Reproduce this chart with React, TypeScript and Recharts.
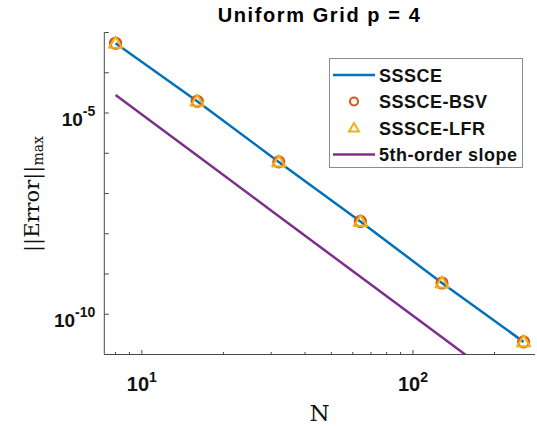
import React from "react";
import { ComposedChart, Line, XAxis, YAxis, Legend } from "recharts";

const gridN = [8, 16, 32, 64, 128, 256];
const errSSSCE = [5.4e-4, 1.96e-5, 6.1e-7, 2.02e-8, 5.98e-10, 2.06e-11];
const errBSV = [5.4e-4, 1.96e-5, 6.1e-7, 2.02e-8, 5.98e-10, 2.06e-11];
const errLFR = [5.4e-4, 1.96e-5, 6.1e-7, 2.02e-8, 5.98e-10, 2.06e-11];
const slopeRef = [2.8e-5, 8.75e-7, 2.73e-8, 8.54e-10, 2.67e-11, 8.34e-13];

const xTicks = [8, 9, 10, 20, 30, 40, 50, 60, 70, 80, 90, 100, 200];
const xLabelled = [10, 100];
const yTicks = [1e-11, 1e-10, 1e-9, 1e-8, 1e-7, 1e-6, 1e-5, 1e-4, 1e-3];
const yLabelled = [1e-10, 1e-5];

const X_DOMAIN: [number, number] = [7.27, 282];
const Y_DOMAIN: [number, number] = [1e-11, 1e-3];

const BLUE = "#0072BD";
const ORANGE = "#D95319";
const YELLOW = "#EDB120";
const PURPLE = "#7E2F8E";
const AXIS = "#4a4a4a";
const SANS = "'Liberation Sans', Arial, Helvetica, sans-serif";
const SERIF = "'DejaVu Serif', serif";

const data = gridN.map((n, i) => ({
  n,
  sssce: errSSSCE[i],
  bsv: errBSV[i],
  lfr: errLFR[i],
  slope: slopeRef[i],
}));

const expOf = (v: number) => Math.round(Math.log10(v));
const isMajorX = (v: number) => xLabelled.includes(v);

const BottomTick = (props: any) => {
  const { x, y, payload } = props;
  const v = payload.value;
  const major = isMajorX(v);
  return (
    <g>
      <line x1={x} x2={x} y1={y} y2={y - (major ? 4.5 : 2.5)} stroke={AXIS} />
      {major && (
        <text x={x} y={y + 36.5} textAnchor="middle" fontFamily={SANS} fontWeight="bold" fontSize={20} fill="#111">
          <tspan>10</tspan>
          <tspan dy={-9} fontSize={14}>{expOf(v)}</tspan>
        </text>
      )}
    </g>
  );
};

const TopTick = (props: any) => {
  const { x, y, payload } = props;
  const major = isMajorX(payload.value);
  return <line x1={x} x2={x} y1={y} y2={y + (major ? 4.5 : 2.5)} stroke={AXIS} />;
};

const LeftTick = (props: any) => {
  const { x, y, payload } = props;
  const v = payload.value;
  const labelled = yLabelled.some((t) => Math.abs(Math.log10(t) - Math.log10(v)) < 1e-6);
  return (
    <g>
      <line x1={x} x2={x + 4.5} y1={y} y2={y} stroke={AXIS} />
      {labelled && (
        <text x={x - 9} y={y + 13} textAnchor="end" fontFamily={SANS} fontWeight="bold" fontSize={19} fill="#111">
          <tspan>10</tspan>
          <tspan dy={-10} fontSize={14}>{expOf(v)}</tspan>
        </text>
      )}
    </g>
  );
};

const RightTick = (props: any) => {
  const { x, y } = props;
  return <line x1={x} x2={x - 4.5} y1={y} y2={y} stroke={AXIS} />;
};

const circleDot = (props: any) => {
  const { cx, cy, index } = props;
  return <circle key={`bsv-${index}`} cx={cx} cy={cy} r={5.5} fill="none" stroke={ORANGE} strokeWidth={2.2} />;
};

const triangleDot = (props: any) => {
  const { cx, cy, index } = props;
  const pts = `${cx},${cy - 6.5} ${cx + 6.5},${cy + 4.5} ${cx - 6.5},${cy + 4.5}`;
  return <polygon key={`lfr-${index}`} points={pts} fill="none" stroke={YELLOW} strokeWidth={2.2} strokeLinejoin="round" />;
};

const legendRows = [
  { name: "SSSCE", kind: "line", color: BLUE },
  { name: "SSSCE-BSV", kind: "circle", color: ORANGE },
  { name: "SSSCE-LFR", kind: "triangle", color: YELLOW },
  { name: "5th-order slope", kind: "line", color: PURPLE },
];

const LegendBox = () => (
  <svg width={194} height={110} style={{ display: "block" }}>
    <rect x={0.5} y={0.5} width={193} height={109} fill="#fff" stroke="#8c8c8c" />
    {legendRows.map((r, i) => {
      const cy = 17 + i * 26.5;
      return (
        <g key={r.name}>
          {r.kind === "line" && <line x1={4} x2={46} y1={cy} y2={cy} stroke={r.color} strokeWidth={2.5} />}
          {r.kind === "circle" && <circle cx={25} cy={cy} r={4} fill="none" stroke={r.color} strokeWidth={2} />}
          {r.kind === "triangle" && (
            <polygon points={`25,${cy - 5} 30,${cy + 3.5} 20,${cy + 3.5}`} fill="none" stroke={r.color} strokeWidth={2} />
          )}
          <text x={50} y={cy + 6.5} fontFamily={SANS} fontWeight="bold" fontSize={18} letterSpacing={0.5} fill="#111">
            {r.name}
          </text>
        </g>
      );
    })}
  </svg>
);

export default function App() {
  return (
    <div style={{ position: "relative", width: 537, height: 428, background: "#fff" }}>
      <style>{"body{margin:0}"}</style>
      <ComposedChart width={537} height={428} data={data} margin={{ top: 32.5, right: 2, bottom: 0, left: 0 }}>
        <XAxis
          dataKey="n"
          type="number"
          scale="log"
          domain={X_DOMAIN}
          allowDataOverflow
          ticks={xTicks}
          interval={0}
          tick={BottomTick}
          tickSize={0}
          tickMargin={0}
          tickLine={false}
          height={73.5}
          axisLine={{ stroke: AXIS }}
        />
        <XAxis
          xAxisId="top"
          dataKey="n"
          orientation="top"
          type="number"
          scale="log"
          domain={X_DOMAIN}
          allowDataOverflow
          ticks={xTicks}
          interval={0}
          tick={TopTick}
          tickSize={0}
          tickMargin={0}
          tickLine={false}
          height={0}
          axisLine={{ stroke: AXIS }}
        />
        <YAxis
          type="number"
          scale="log"
          domain={Y_DOMAIN}
          allowDataOverflow
          ticks={yTicks}
          interval={0}
          tick={LeftTick}
          tickSize={0}
          tickMargin={0}
          tickLine={false}
          width={104.3}
          axisLine={{ stroke: AXIS }}
        />
        <YAxis
          yAxisId="right"
          orientation="right"
          type="number"
          scale="log"
          domain={Y_DOMAIN}
          allowDataOverflow
          ticks={yTicks}
          interval={0}
          tick={RightTick}
          tickSize={0}
          tickMargin={0}
          tickLine={false}
          width={0}
          axisLine={{ stroke: AXIS }}
        />
        <Legend
          layout="vertical"
          align="center"
          verticalAlign="middle"
          content={LegendBox}
          wrapperStyle={{ left: 329, top: 58, width: 194 }}
        />
        <Line dataKey="sssce" name="SSSCE" stroke={BLUE} strokeWidth={2.5} dot={false} isAnimationActive={false} />
        <Line dataKey="bsv" name="SSSCE-BSV" stroke="none" dot={circleDot} isAnimationActive={false} />
        <Line dataKey="lfr" name="SSSCE-LFR" stroke="none" dot={triangleDot} isAnimationActive={false} />
        <Line dataKey="slope" name="5th-order slope" stroke={PURPLE} strokeWidth={2.5} dot={false} isAnimationActive={false} />
      </ComposedChart>
      <svg width={537} height={428} style={{ position: "absolute", left: 0, top: 0, pointerEvents: "none" }}>
        <text x={319.6} y={21.5} textAnchor="middle" fontFamily={SANS} fontWeight="bold" fontSize={20} letterSpacing={1.6} fill="#000">
          Uniform Grid p = 4
        </text>
        <text x={319.6} y={421} textAnchor="middle" fontFamily={SERIF} fontSize={23} fill="#111">
          N
        </text>
        <text transform="translate(38.5,194) rotate(-90)" textAnchor="middle" fontFamily={SERIF} fontSize={21} fill="#111">
          <tspan>||Error||</tspan>
          <tspan dy={4} fontSize={14}>max</tspan>
        </text>
      </svg>
    </div>
  );
}
